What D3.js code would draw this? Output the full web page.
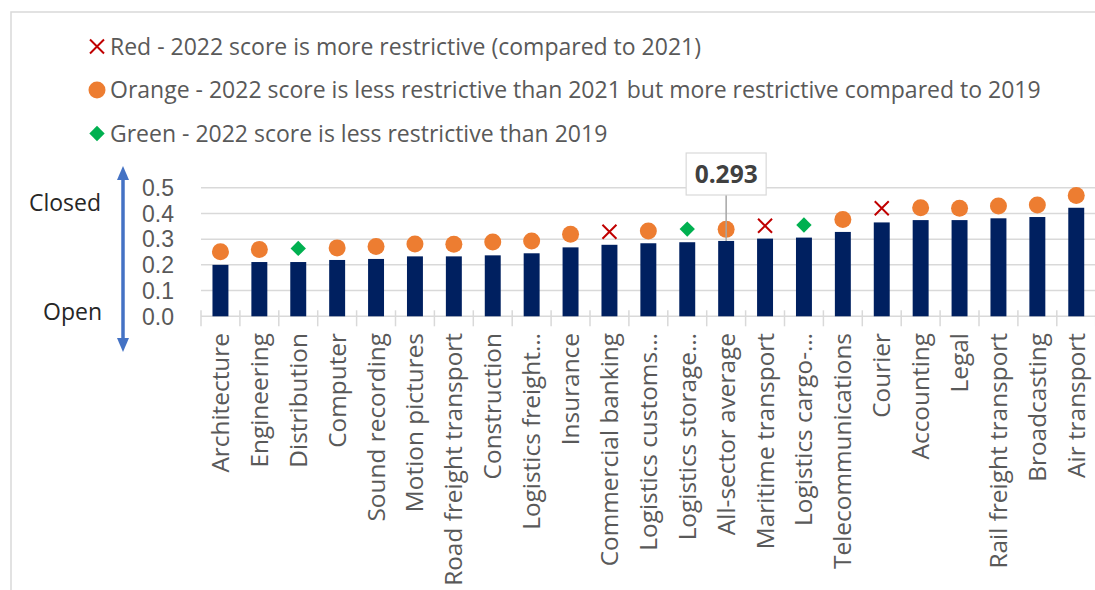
<!DOCTYPE html>
<meta charset="utf-8">
<html>
  <head>
    <style>
     body { margin: 0; background: #fff; }
     text { font-family: "Open Sans", "Noto Sans", sans-serif; }
     text.legend { font-size: 23px; fill: #595959; }
     text.tick-y { font-family: "Liberation Sans", Arial, sans-serif; font-size: 23px; fill: #595959; }
     text.cat { font-size: 24.4px; fill: #595959; }
     text.side { font-size: 23px; fill: #262626; }
     text.callout { font-size: 24.5px; font-weight: bold; fill: #404040; }
    </style>
    <script src="https://cdn.jsdelivr.net/npm/d3@7"></script>
  </head>
  <body>
    <div id="chart"></div>
    <script type="text/javascript">
     // sectors, sorted by 2022 score
     var sectors = ["Architecture", "Engineering", "Distribution", "Computer", "Sound recording",
                    "Motion pictures", "Road freight transport", "Construction", "Logistics freight\u2026",
                    "Insurance", "Commercial banking", "Logistics customs\u2026", "Logistics storage\u2026",
                    "All-sector average", "Maritime transport", "Logistics cargo-\u2026", "Telecommunications",
                    "Courier", "Accounting", "Legal", "Rail freight transport", "Broadcasting", "Air transport"];
     // bar values
     var scores = [0.200, 0.211, 0.211, 0.219, 0.223, 0.233, 0.233, 0.237, 0.245, 0.268, 0.278,
                   0.284, 0.288, 0.293, 0.302, 0.306, 0.328, 0.365, 0.374, 0.374, 0.381, 0.386, 0.422];
     // marker positions
     var markerValues = [0.251, 0.260, 0.264, 0.266, 0.271, 0.281, 0.280, 0.289, 0.293, 0.319, 0.329,
                         0.332, 0.339, 0.338, 0.352, 0.355, 0.376, 0.420, 0.422, 0.420, 0.429, 0.433, 0.470];
     var markerStatus = ["orange", "orange", "green", "orange", "orange", "orange", "orange", "orange",
                         "orange", "orange", "red", "orange", "green", "orange", "red", "green", "orange",
                         "red", "orange", "orange", "orange", "orange", "orange"];
     var yTicks = [0.0, 0.1, 0.2, 0.3, 0.4, 0.5];
     var legendItems = [
       {key: "red", label: "Red - 2022 score is more restrictive (compared to 2021)"},
       {key: "orange", label: "Orange - 2022 score is less restrictive than 2021 but more restrictive compared to 2019"},
       {key: "green", label: "Green - 2022 score is less restrictive than 2019"}
     ];
     var calloutIndex = 13, calloutText = "0.293";

     var colors = {red: "#c00000", orange: "#ed7d31", green: "#00b050"},
         barColor = "#002060";

     var width = 1095, height = 590;
     var svg = d3.select("#chart").append("svg")
                 .attr("width", width)
                 .attr("height", height);

     // frame
     svg.append("rect")
        .attr("x", 11).attr("y", 12)
        .attr("width", width + 20).attr("height", height + 20)
        .attr("fill", "none").attr("stroke", "#d9d9d9").attr("stroke-width", 1.5);

     var x = d3.scaleBand()
               .domain(sectors)
               .range([201, 201 + 38.9 * sectors.length])
               .paddingInner(0.59).paddingOuter(0.295);
     var y = d3.scaleLinear().domain([0, 0.5]).range([316.3, 187.7]);

     // gridlines
     svg.selectAll(".grid")
        .data(yTicks.slice(1))
        .enter().append("line")
        .attr("x1", 201).attr("x2", width)
        .attr("y1", function(d) { return y(d); })
        .attr("y2", function(d) { return y(d); })
        .attr("stroke", "#d9d9d9").attr("stroke-width", 1.5);

     // y labels
     svg.selectAll(".tick-y")
        .data(yTicks)
        .enter().append("text")
        .attr("class", "tick-y")
        .attr("x", 174)
        .attr("y", function(d) { return y(d); })
        .attr("dy", "0.36em")
        .style("text-anchor", "end")
        .text(function(d) { return d3.format(".1f")(d); });

     // x axis line + tick marks at band boundaries
     svg.append("line")
        .attr("x1", 201).attr("x2", width)
        .attr("y1", y(0)).attr("y2", y(0))
        .attr("stroke", "#d9d9d9").attr("stroke-width", 1.5);
     var step = x.step();
     svg.selectAll(".xtick")
        .data(d3.range(sectors.length + 1))
        .enter().append("line")
        .attr("x1", function(i) { return 201 + i * step; })
        .attr("x2", function(i) { return 201 + i * step; })
        .attr("y1", y(0) - 6).attr("y2", y(0) + 10)
        .attr("stroke", "#d9d9d9").attr("stroke-width", 1.5);

     // bars
     svg.selectAll(".bar")
        .data(sectors)
        .enter().append("rect")
        .attr("x", function(d) { return x(d); })
        .attr("width", x.bandwidth())
        .attr("y", function(d, i) { return y(scores[i]); })
        .attr("height", function(d, i) { return y(0) - y(scores[i]); })
        .attr("fill", barColor);

     // category labels
     svg.selectAll(".cat")
        .data(sectors)
        .enter().append("text")
        .attr("class", "cat")
        .attr("transform", function(d) {
          return "translate(" + (x(d) + x.bandwidth() / 2) + ",333) rotate(-90)";
        })
        .attr("dy", "0.35em")
        .style("text-anchor", "end")
        .text(function(d) { return d; });

     function drawMarker(g, kind) {
       if (kind === "orange") {
         g.append("circle").attr("r", 8.5).attr("fill", colors.orange);
       } else if (kind === "green") {
         g.append("path").attr("d", d3.symbol(d3.symbolDiamond2, 150)()).attr("fill", colors.green);
       } else {
         g.append("path").attr("d", "M-7,-7L7,7M-7,7L7,-7")
          .attr("stroke", colors.red).attr("stroke-width", 2).attr("fill", "none");
       }
     }

     // markers
     svg.selectAll(".marker")
        .data(sectors)
        .enter().append("g")
        .attr("class", "marker")
        .attr("transform", function(d, i) {
          return "translate(" + (x(d) + x.bandwidth() / 2) + "," + y(markerValues[i]) + ")";
        })
        .each(function(d, i) { drawMarker(d3.select(this), markerStatus[i]); });

     // callout for all-sector average
     var cx = x(sectors[calloutIndex]) + x.bandwidth() / 2;
     svg.append("line")
        .attr("x1", cx).attr("x2", cx)
        .attr("y1", 195).attr("y2", y(scores[calloutIndex]))
        .attr("stroke", "#a6a6a6").attr("stroke-width", 1.5);
     svg.append("rect")
        .attr("x", cx - 40).attr("y", 153)
        .attr("width", 80).attr("height", 42)
        .attr("fill", "#fff").attr("stroke", "#d9d9d9").attr("stroke-width", 1.2);
     svg.append("text")
        .attr("class", "callout")
        .attr("x", cx).attr("y", 174).attr("dy", "0.36em")
        .style("text-anchor", "middle")
        .text(calloutText);

     // legend
     var legend = svg.selectAll(".legend-row")
        .data(legendItems)
        .enter().append("g")
        .attr("transform", function(d, i) { return "translate(97," + (46.5 + i * 43.5) + ")"; });
     legend.each(function(d) { drawMarker(d3.select(this), d.key); });
     legend.append("text")
        .attr("class", "legend")
        .attr("x", 13)
        .attr("dy", "0.36em")
        .text(function(d) { return d.label; });

     // Closed / Open arrow
     var ax = 123;
     svg.append("line")
        .attr("x1", ax).attr("x2", ax)
        .attr("y1", 178).attr("y2", 340)
        .attr("stroke", "#4472c4").attr("stroke-width", 3.5);
     svg.append("path")
        .attr("d", "M" + ax + ",166L" + (ax - 6) + ",180L" + (ax + 6) + ",180Z")
        .attr("fill", "#4472c4");
     svg.append("path")
        .attr("d", "M" + ax + ",352L" + (ax - 6) + ",338L" + (ax + 6) + ",338Z")
        .attr("fill", "#4472c4");
     svg.append("text").attr("class", "side")
        .attr("x", 101).attr("y", 203).attr("dy", "0.36em")
        .style("text-anchor", "end").text("Closed");
     svg.append("text").attr("class", "side")
        .attr("x", 102).attr("y", 312).attr("dy", "0.36em")
        .style("text-anchor", "end").text("Open");
    </script>
  </body>
</html>
